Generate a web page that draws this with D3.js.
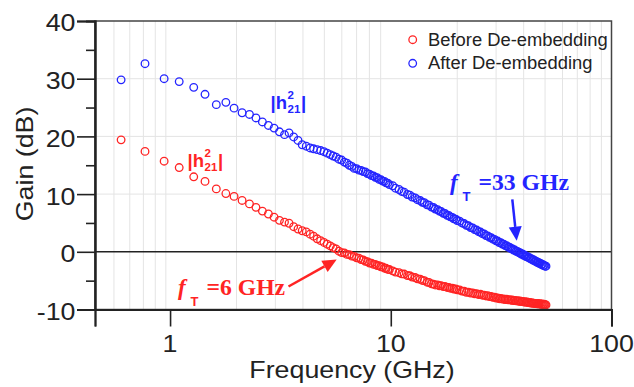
<!DOCTYPE html>
<html>
<head>
<meta charset="utf-8">
<script src="https://cdn.jsdelivr.net/npm/d3@7"></script>
<style>
  body { margin: 0; background: #fff; }
  svg { display: block; }
</style>
</head>
<body>
<svg id="chart" width="634" height="387"></svg>
<script>
// frequency sweep (GHz), shared by both measurements
const freqGHz = [
  0.60, 0.77, 0.94, 1.10, 1.28, 1.44, 1.62, 1.79, 1.95, 2.12,
  2.29, 2.45, 2.62, 2.79, 2.96, 3.13, 3.30, 3.46, 3.63, 3.80,
  3.97, 4.14, 4.31, 4.47, 4.64, 4.81, 4.98, 5.15, 5.32, 5.48,
  5.65, 5.82, 5.99, 6.16, 6.33, 6.49, 6.66, 6.83, 7.00, 7.17,
  7.34, 7.50, 7.67, 7.84, 8.01, 8.18, 8.35, 8.51, 8.68, 8.85,
  9.02, 9.19, 9.36, 9.52, 9.69, 9.86,
  10.2, 10.5, 10.9, 11.2, 11.5, 11.9, 12.2, 12.5, 12.9, 13.2,
  13.6, 13.9, 14.2, 14.6, 14.9, 15.3, 15.6, 15.9, 16.3, 16.6,
  16.9, 17.3, 17.6, 18.0, 18.3, 18.6, 19.0, 19.3, 19.7, 20.0,
  20.5, 21.0, 21.5, 22.0, 22.5, 23.0, 23.5, 24.0, 24.5, 25.0,
  25.5, 26.0, 26.5, 27.0, 27.5, 28.0, 28.5, 29.0, 29.5, 30.0,
  30.5, 31.0, 31.5, 32.0, 32.5, 33.0, 33.5, 34.0, 34.5, 35.0,
  35.5, 36.0, 36.5, 37.0, 37.5, 38.0, 38.5, 39.0, 39.5, 40.0,
  40.5, 41.0, 41.5, 42.0, 42.5, 43.0, 43.5, 44.0, 44.5, 45.0,
  45.5, 46.0, 46.5, 47.0, 47.5, 48.0, 48.5, 49.0, 49.5, 50.0,
  50.5
];

// |h21|^2 (dB) before de-embedding
const gainBefore = [
  19.4, 17.4, 15.7, 14.6, 13.0, 12.2, 10.9, 10.1, 9.6, 8.9,
  8.3, 7.7, 7.05, 6.55, 6.0, 5.45, 5.15, 4.95, 4.35, 3.95,
  3.65, 3.45, 3.05, 2.7, 2.25, 1.93, 1.62, 1.32, 1.02, 0.73,
  0.5, 0.1, -0.15, -0.2, -0.45, -0.5, -0.75, -0.8, -1.05, -1.1,
  -1.35, -1.4, -1.65, -1.72, -1.95, -1.96, -2.18, -2.18, -2.38, -2.41,
  -2.6, -2.62, -2.84, -2.86, -3.05, -3.08,
  -3.3, -3.52, -3.62, -3.83, -3.86, -4.12, -4.16, -4.38, -4.46, -4.68,
  -4.76, -4.97, -5.01, -5.27, -5.31, -5.56, -5.6, -5.75, -5.74, -5.89,
  -5.86, -6.04, -6.01, -6.18, -6.16, -6.31, -6.3, -6.46, -6.45, -6.6,
  -6.62, -6.81, -6.84, -7.02, -7.0, -7.15, -7.13, -7.28, -7.25, -7.4,
  -7.37, -7.52, -7.5, -7.65, -7.62, -7.77, -7.74, -7.89, -7.86, -8.01,
  -8.0, -8.13, -8.1, -8.21, -8.17, -8.27, -8.23, -8.33, -8.29, -8.39,
  -8.35, -8.45, -8.41, -8.51, -8.47, -8.57, -8.53, -8.63, -8.59, -8.69,
  -8.65, -8.75, -8.71, -8.81, -8.77, -8.87, -8.83, -8.93, -8.89, -8.97,
  -8.93, -9.02, -8.97, -9.06, -9.01, -9.1, -9.05, -9.14, -9.09, -9.17,
  -9.2
];

// |h21|^2 (dB) after de-embedding
const gainAfter = [
  29.8, 32.6, 30.0, 29.5, 28.5, 27.3, 25.5, 25.9, 24.9, 24.1,
  23.8, 23.2, 22.5, 21.9, 21.44, 20.8, 20.3, 20.6, 19.9, 19.3,
  18.55, 18.3, 18.0, 17.85, 17.7, 17.55, 17.35, 17.1, 16.85, 16.6,
  16.4, 16.05, 15.9, 15.55, 15.35, 15.0, 14.8, 14.45, 14.4, 14.15,
  14.1, 13.9, 13.85, 13.55, 13.45, 13.2, 13.15, 12.9, 12.85, 12.55,
  12.5, 12.25, 12.2, 11.95, 11.9, 11.65,
  11.45, 11.02, 10.8, 10.46, 10.34, 9.93, 9.82, 9.5, 9.34, 9.03,
  8.88, 8.58, 8.5, 8.15, 8.09, 7.75, 7.69, 7.41, 7.31, 7.04,
  6.99, 6.68, 6.64, 6.33, 6.3, 6.05, 5.97, 5.73, 5.66, 5.42,
  5.31, 5.0, 4.9, 4.59, 4.51, 4.21, 4.13, 3.84, 3.77, 3.48,
  3.42, 3.14, 3.09, 2.81, 2.76, 2.5, 2.45, 2.19, 2.15, 1.9,
  1.86, 1.61, 1.58, 1.34, 1.31, 1.07, 1.05, 0.81, 0.79, 0.56,
  0.55, 0.31, 0.3, 0.08, 0.07, -0.16, -0.16, -0.38, -0.38, -0.6,
  -0.6, -0.82, -0.81, -1.02, -1.02, -1.23, -1.22, -1.43, -1.42, -1.62,
  -1.61, -1.82, -1.8, -2.0, -1.98, -2.18, -2.16, -2.36, -2.34, -2.5,
  -2.5
];

const seriesNames = ["Before De-embedding", "After De-embedding"];
const xTicks = [1, 10, 100];
const yTicks = [-10, 0, 10, 20, 30, 40];
const yMinorTicks = [-5, 5, 15, 25, 35];
const xGrid = [0.557, 0.657, 0.757, 0.857, 0.957,
  2, 3, 4, 5, 6, 7, 8, 9, 20, 30, 40, 50, 60, 70, 80, 90];
const yGrid = [10, 20, 30];

const red = "#ff2424", blue = "#2424ff", ink = "#222";
const sx = 1.15; // the source text is drawn a bit wide

const svg = d3.select("#chart");
const plotLeft = 95, plotRight = 611.5, plotTop = 21, plotBottom = 309.5;

const x = d3.scaleLog().domain([0.457, 100]).range([plotLeft, plotRight]);
const y = d3.scaleLinear().domain([-10, 40]).range([plotBottom, plotTop]);

// stretched text helper
function label(g, px, py, str, size, opts = {}) {
  return g.append("text")
    .attr("transform", `translate(${px},${py}) scale(${opts.scale || sx},1)`)
    .attr("text-anchor", opts.anchor || "start")
    .attr("font-family", opts.family || "'Liberation Sans', Arial, sans-serif")
    .attr("font-size", size)
    .attr("font-weight", opts.weight || "normal")
    .attr("font-style", opts.style || "normal")
    .attr("fill", opts.fill || ink)
    .text(str);
}

//Grid lines
svg.append("g").selectAll("line").data(xGrid).join("line")
  .attr("x1", d => x(d)).attr("x2", d => x(d))
  .attr("y1", plotTop).attr("y2", plotBottom)
  .attr("stroke", "#e4e4e4").attr("stroke-width", 1);
svg.append("g").selectAll("line").data(yGrid).join("line")
  .attr("x1", plotLeft).attr("x2", plotRight)
  .attr("y1", d => y(d)).attr("y2", d => y(d))
  .attr("stroke", "#e4e4e4").attr("stroke-width", 1);

// zero dB line
svg.append("line")
  .attr("x1", plotLeft).attr("x2", plotRight).attr("y1", y(0)).attr("y2", y(0))
  .attr("stroke", ink).attr("stroke-width", 1.5);

//Data markers
const series = [
  { name: seriesNames[0], values: gainBefore, colour: red },
  { name: seriesNames[1], values: gainAfter, colour: blue }
];
series.forEach(s => {
  svg.append("g").selectAll("circle").data(freqGHz).join("circle")
    .attr("cx", d => x(d))
    .attr("cy", (d, i) => y(s.values[i]))
    .attr("r", 3.8)
    .attr("fill", "none")
    .attr("stroke", s.colour)
    .attr("stroke-width", 1.3);
});

//Frame
svg.append("rect")
  .attr("x", plotLeft).attr("y", plotTop)
  .attr("width", plotRight - plotLeft).attr("height", plotBottom - plotTop)
  .attr("fill", "none").attr("stroke", "#444").attr("stroke-width", 1.5);

//Axes
svg.append("g").attr("transform", `translate(${plotLeft},0)`)
  .call(d3.axisLeft(y).tickValues(yTicks).tickSize(18).tickFormat(""));
svg.append("g").attr("transform", `translate(${plotLeft},0)`)
  .call(d3.axisLeft(y).tickValues(yMinorTicks).tickSize(9).tickFormat(""));
svg.append("g").attr("transform", `translate(0,${plotBottom})`)
  .call(d3.axisBottom(x).tickValues([0.457].concat(xTicks)).tickSize(17).tickFormat(""));
svg.selectAll(".domain").attr("stroke", ink).attr("stroke-width", 2);
svg.selectAll(".tick line").attr("stroke", ink).attr("stroke-width", 1.6);

yTicks.forEach(t => label(svg, 75.5, y(t) + 10.4, String(t), 23.3, { anchor: "end" }));
xTicks.forEach(t => label(svg, x(t), 352, String(t), 23.3, { anchor: "middle" }));

label(svg, 352, 378, "Frequency (GHz)", 23.3, { anchor: "middle" });
svg.append("text")
  .attr("transform", "translate(33,164) rotate(-90) scale(1.15,1)")
  .attr("text-anchor", "middle")
  .attr("font-family", "'Liberation Sans', Arial, sans-serif")
  .attr("font-size", 23.3).attr("fill", ink)
  .text("Gain (dB)");

//Legend
series.forEach((s, i) => {
  const ly = 39.7 + i * 23.6;
  svg.append("circle").attr("cx", 412.7).attr("cy", ly).attr("r", 3.8)
    .attr("fill", "none").attr("stroke", s.colour).attr("stroke-width", 1.3);
  label(svg, 428, ly + 6, s.name, 17.5, { scale: 1.05 });
});

//|h21|^2 labels
function hLabel(x0, base, colour) {
  const o = { fill: colour, weight: "bold", scale: 1 };
  label(svg, x0, base, "|h", 18.5, o);
  label(svg, x0 + 17, base - 10, "2", 11.5, o);
  label(svg, x0 + 17, base + 4, "21", 11.5, o);
  label(svg, x0 + 30.5, base, "|", 18.5, o);
}
hLabel(270.5, 108.5, blue);
hLabel(187.5, 167, red);

//fT annotations
const serif = "'Liberation Serif', 'Times New Roman', serif";
function fTLabel(x0, base, text, colour) {
  label(svg, x0, base, "f", 23, { family: serif, weight: "bold", style: "italic", fill: colour, scale: 1 });
  label(svg, x0 + 12.5, base + 11, "T", 13, { weight: "bold", fill: colour, scale: 1 });
  label(svg, x0 + 28.5, base, text, 23, { family: serif, weight: "bold", fill: colour, scale: 1.03 });
}
fTLabel(178, 295, "=6 GHz", red);
fTLabel(450, 189.5, "=33 GHz", blue);

function arrow(x1, y1, x2, y2, colour) {
  const a = Math.atan2(y2 - y1, x2 - x1), L = 14, W = 6.5;
  const bx = x2 - L * Math.cos(a), by = y2 - L * Math.sin(a);
  svg.append("line").attr("x1", x1).attr("y1", y1).attr("x2", bx).attr("y2", by)
    .attr("stroke", colour).attr("stroke-width", 2.5);
  svg.append("path")
    .attr("d", `M${x2},${y2}L${bx + W * Math.sin(a)},${by - W * Math.cos(a)}L${bx - W * Math.sin(a)},${by + W * Math.cos(a)}Z`)
    .attr("fill", colour);
}
arrow(288.5, 286.5, 336.7, 259.5, red);
arrow(512.3, 199.3, 516.7, 240.7, blue);
</script>
</body>
</html>
